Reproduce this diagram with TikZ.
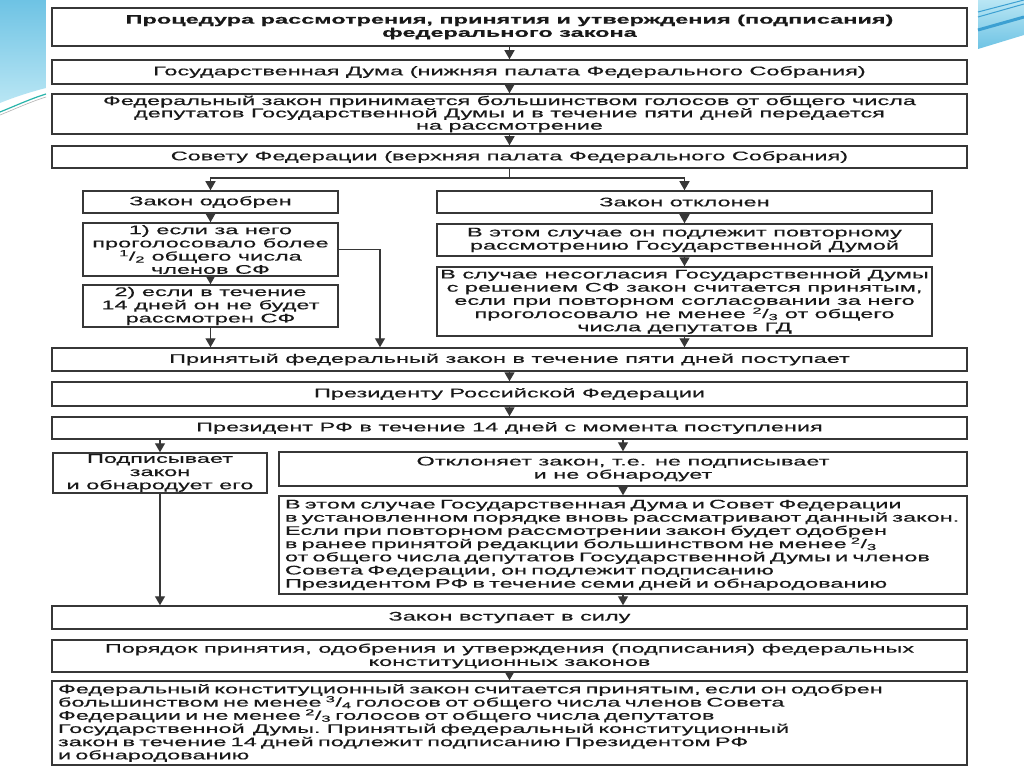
\documentclass[tikz,border=0pt]{standalone}
\usepackage{fontspec}
\setmainfont[FakeStretch=1.88,FakeBold=0.35]{Liberation Sans}
\usetikzlibrary{arrows.meta}
\definecolor{bord}{RGB}{55,55,55}
\definecolor{txt}{RGB}{25,25,25}
\definecolor{skya}{RGB}{110,195,228}
\definecolor{skyb}{RGB}{185,230,244}
\definecolor{tealline}{RGB}{40,180,170}
\definecolor{stripe}{RGB}{60,160,210}
\newcommand{\fr}[2]{\textsuperscript{#1}/\textsubscript{#2}}
\begin{document}
\begin{tikzpicture}[x=1pt,y=-1pt,
  box/.style={draw=bord,line width=1.5pt,fill=white,inner sep=0pt,align=center,text=txt,font=\fontsize{12.5}{13.2}\selectfont},
  lbox/.style={box,align=left,inner xsep=6pt},
  arr/.style={draw=bord,line width=1.4pt,-{Triangle[length=9pt,width=10pt]}},
  ln/.style={draw=bord,line width=1.4pt}]
\useasboundingbox (0,0) rectangle (1024,767);
\fill[white] (0,0) rectangle (1024,767);
% decorative swooshes
\shade[top color=skya,bottom color=skyb] (0,0) -- (46,0) -- (46,88) .. controls (30,92) and (12,98) .. (0,103) -- cycle;
\draw[tealline,line width=1.2pt] (0,112) .. controls (15,106) and (30,99) .. (46,94);
\draw[gray!60,line width=0.6pt] (0,115) .. controls (15,109) and (30,102) .. (46,97);
\shade[top color=skyb,bottom color=skya] (978,0) -- (1024,0) -- (1024,35) -- (978,49) -- cycle;
\draw[stripe,line width=1pt] (978,12) -- (1024,0);
\draw[stripe,line width=1pt] (978,17) -- (1024,4);
\draw[stripe,line width=3pt] (978,30) -- (1024,17);

% boxes
\node[box,minimum width=915pt,minimum height=38pt] (title) at (509.5,27) {\bfseries Процедура рассмотрения, принятия и утверждения (подписания)\\\bfseries федерального закона};
\node[box,minimum width=915pt,minimum height=24pt] (duma) at (509.5,72) {Государственная Дума (нижняя палата Федерального Собрания)};
\node[box,minimum width=915pt,minimum height=40pt,font=\fontsize{12.5}{12.3}\selectfont] (fz) at (509.5,114) {Федеральный закон принимается большинством голосов от общего числа\\депутатов Государственной Думы и в течение пяти дней передается\\на рассмотрение};
\node[box,minimum width=915pt,minimum height=22pt] (sf) at (509.5,157) {Совету Федерации (верхняя палата Федерального Собрания)};
\node[box,minimum width=255pt,minimum height=22pt] (odobr) at (210.5,202) {Закон одобрен};
\node[box,minimum width=495pt,minimum height=22pt] (otkl) at (684.5,202) {Закон отклонен};
\node[box,minimum width=255pt,minimum height=53pt] (if1) at (210.5,249.5) {1) если за него\\проголосовало более\\\fr{1}{2} общего числа\\членов СФ};
\node[box,minimum width=495pt,minimum height=32pt] (rep) at (684.5,240) {В этом случае он подлежит повторному\\рассмотрению Государственной Думой};
\node[box,minimum width=255pt,minimum height=42pt] (if2) at (210.5,306) {2) если в течение\\14 дней он не будет\\рассмотрен СФ};
\node[box,minimum width=495pt,minimum height=69pt] (nes) at (684.5,301.5) {В случае несогласия Государственной Думы\\с решением СФ закон считается принятым,\\если при повторном согласовании за него\\проголосовало не менее \fr{2}{3} от общего\\числа депутатов ГД};
\node[box,minimum width=915pt,minimum height=23pt] (prin) at (509.5,359.5) {Принятый федеральный закон в течение пяти дней поступает};
\node[box,minimum width=915pt,minimum height=24pt] (pres) at (509.5,394) {Президенту Российской Федерации};
\node[box,minimum width=915pt,minimum height=22pt] (pres14) at (509.5,428) {Президент РФ в течение 14 дней с момента поступления};
\node[box,minimum width=214pt,minimum height=40pt] (podp) at (160,473) {Подписывает\\закон\\и обнародует его};
\node[box,minimum width=688pt,minimum height=34pt] (otkl2) at (623,469) {Отклоняет закон, т.е. не подписывает\\и не обнародует};
\node[lbox,text width=676pt,minimum height=98pt] (vetom) at (623,545) {В этом случае Государственная Дума и Совет Федерации\\\mbox{в установленном порядке вновь рассматривают данный закон.}\\Если при повторном рассмотрении закон будет одобрен\\в ранее принятой редакции большинством не менее \fr{2}{3}\\от общего числа депутатов Государственной Думы и членов\\Совета Федерации, он подлежит подписанию\\Президентом РФ в течение семи дней и обнародованию};
\node[box,minimum width=915pt,minimum height=23pt] (vstup) at (509.5,617.5) {Закон вступает в силу};
\node[box,minimum width=915pt,minimum height=32pt] (poryad) at (509.5,656) {Порядок принятия, одобрения и утверждения (подписания) федеральных\\конституционных законов};
\node[lbox,text width=903pt,minimum height=84pt] (fkz) at (509.5,723) {Федеральный конституционный закон считается принятым, если он одобрен\\большинством не менее \fr{3}{4} голосов от общего числа членов Совета\\Федерации и не менее \fr{2}{3} голосов от общего числа депутатов\\Государственной\ \ Думы. Принятый федеральный конституционный\\закон в течение 14 дней подлежит подписанию Президентом РФ\\и обнародованию};

% connectors
\draw[arr] (title.south) -- (duma.north);
\draw[arr] (duma.south) -- (fz.north);
\draw[arr] (fz.south) -- (sf.north);
\coordinate (sj) at (509.5,178);
\draw[ln] (sf.south) -- (sj);
\draw[arr] (sj) -| (odobr.north);
\draw[arr] (sj) -| (otkl.north);
\draw[arr] (odobr.south) -- (if1.north);
\draw[arr] (if1.south) -- (if2.north);
\draw[arr] (otkl.south) -- (rep.north);
\draw[arr] (rep.south) -- (nes.north);
\coordinate (c1) at (380,249.5);
\draw[arr] (if1.east) -- (c1) -- (c1 |- prin.north);
\draw[arr] (if2.south) -- (if2.south |- prin.north);
\draw[arr] (nes.south) -- (nes.south |- prin.north);
\draw[arr] (prin.south) -- (pres.north);
\draw[arr] (pres.south) -- (pres14.north);
\draw[arr] (podp.north |- pres14.south) -- (podp.north);
\draw[arr] (otkl2.north |- pres14.south) -- (otkl2.north);
\draw[arr] (otkl2.south) -- (vetom.north);
\draw[arr] (podp.south) -- (podp.south |- vstup.north);
\draw[arr] (vetom.south) -- (vetom.south |- vstup.north);
\draw[arr] (poryad.south) -- (fkz.north);
\end{tikzpicture}
\end{document}
